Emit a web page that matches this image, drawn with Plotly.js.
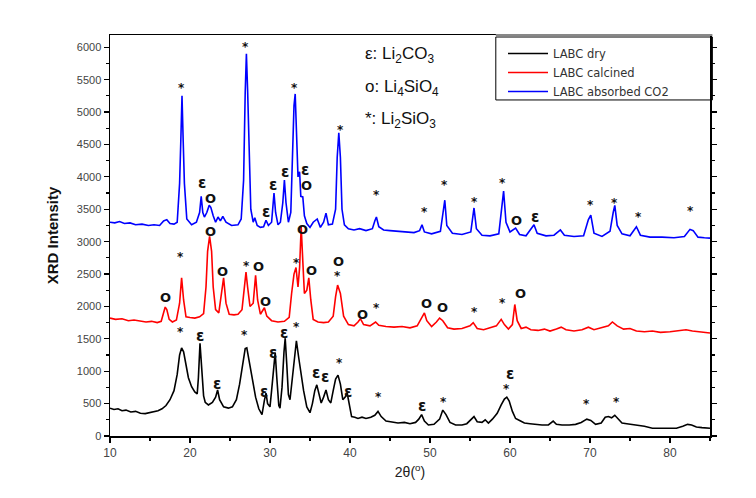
<!DOCTYPE html>
<html>
<head>
<meta charset="utf-8">
<script src="https://cdn.plot.ly/plotly-3.0.1.min.js"></script>
<style>html,body{margin:0;padding:0;background:#fff;}#chart{width:756px;height:498px;}</style>
</head>
<body>
<div id="chart"></div>
<script>
// ---- Data ----
const seriesNames = ["LABC dry", "LABC calcined", "LABC absorbed CO2"];

const blueX = [10.0,10.6,11.2,11.8,12.5,13.2,14.0,14.8,15.5,16.2,16.7,17.1,17.5,18.0,18.4,18.7,18.85,19.0,19.15,19.3,19.6,20.2,20.8,21.2,21.4,21.6,21.8,22.1,22.4,22.6,22.9,23.2,23.5,23.8,24.1,24.5,25.2,26.0,26.4,26.7,26.9,27.05,27.2,27.4,27.6,27.9,28.1,28.4,28.8,29.2,29.5,29.8,30.2,30.5,30.7,31.0,31.3,31.6,31.8,32.0,32.3,32.6,32.8,33.0,33.15,33.35,33.5,33.7,33.85,34.1,34.3,34.6,35.0,35.4,35.9,36.3,36.7,37.0,37.3,37.8,38.2,38.4,38.6,38.8,39.0,39.3,39.8,40.5,41.2,42.0,42.8,43.1,43.3,43.6,44.2,45.0,46.0,47.0,48.0,48.7,49.0,49.3,50.2,51.3,51.7,51.85,52.1,52.8,54.0,55.1,55.5,55.8,56.5,57.5,58.6,59.0,59.2,59.5,60.0,60.7,61.2,62.0,63.0,63.4,64.5,65.5,66.3,66.8,68.0,69.2,69.8,70.1,70.5,71.5,72.5,72.9,73.1,73.4,74.0,75.0,75.8,76.3,77.5,79.0,80.5,81.8,82.5,82.9,83.5,84.3,85.0];
const blueY = [3300,3290,3310,3280,3290,3260,3270,3250,3260,3250,3320,3340,3280,3270,3300,3900,4550,5250,4550,3900,3350,3260,3300,3450,3700,3450,3380,3450,3560,3530,3400,3300,3380,3320,3390,3300,3250,3260,3350,3950,5300,5900,5350,4200,3500,3300,3370,3250,3220,3230,3330,3250,3300,3750,3450,3260,3300,3600,3950,3600,3300,3450,4200,5100,5280,4700,4000,4080,3700,3690,3400,3280,3220,3300,3350,3220,3300,3440,3260,3270,3500,4300,4680,4300,3500,3260,3200,3180,3200,3170,3200,3320,3380,3230,3180,3170,3160,3150,3140,3170,3260,3150,3120,3160,3500,3640,3250,3130,3110,3150,3520,3200,3100,3090,3120,3580,3780,3300,3150,3210,3110,3090,3260,3130,3090,3100,3180,3100,3080,3090,3340,3410,3130,3080,3160,3450,3560,3250,3120,3090,3230,3100,3070,3070,3060,3080,3190,3170,3070,3060,3055];

const redX = [10.0,10.7,11.5,12.3,13.0,13.8,14.5,15.2,15.9,16.4,16.7,16.9,17.1,17.4,17.8,18.3,18.7,18.95,19.2,19.5,20.0,20.6,21.2,21.7,22.0,22.2,22.45,22.7,22.9,23.2,23.6,24.0,24.2,24.5,24.9,25.5,26.0,26.5,26.8,27.0,27.2,27.5,27.9,28.2,28.45,28.8,29.3,29.6,30.2,31.0,31.8,32.4,32.7,33.0,33.25,33.5,33.7,33.9,34.1,34.3,34.6,34.85,35.1,35.4,36.0,36.7,37.3,37.9,38.2,38.45,38.8,39.2,39.8,40.5,41.0,41.3,41.7,42.5,43.2,43.6,44.5,45.5,46.5,47.5,48.4,48.9,49.3,49.6,50.2,50.8,51.2,51.6,52.2,53.0,54.0,55.0,55.4,55.9,56.7,57.5,58.3,58.9,59.3,59.8,60.3,60.6,60.9,61.4,62.0,62.6,63.5,64.3,65.0,65.8,66.4,67.0,68.0,69.0,69.8,70.5,71.5,72.3,72.8,73.4,74.2,75.0,75.8,76.8,77.8,78.8,80.0,81.0,82.0,82.8,83.6,84.4,85.0];
const redY = [1820,1800,1810,1780,1790,1770,1760,1770,1750,1770,1900,1990,1950,1800,1760,1790,2050,2440,2100,1840,1830,1820,1840,1890,2300,2850,3080,2850,2300,1950,1900,2250,2440,2050,1880,1870,1880,1950,2300,2530,2300,2000,2050,2480,2100,1880,1980,1850,1780,1760,1770,1830,2200,2500,2600,2300,2600,3230,2700,2200,2250,2440,2100,1800,1760,1750,1760,1850,2150,2330,2200,1850,1720,1700,1760,1810,1720,1700,1760,1710,1690,1680,1690,1670,1700,1800,1900,1780,1690,1760,1820,1780,1670,1650,1660,1700,1750,1660,1640,1670,1700,1800,1720,1650,1720,2030,1780,1660,1680,1640,1630,1650,1620,1650,1680,1640,1620,1640,1680,1640,1670,1700,1760,1700,1650,1660,1620,1610,1620,1600,1610,1620,1640,1620,1610,1600,1590];

const blackX = [10.0,10.5,11.0,11.5,12.0,12.6,13.2,13.8,14.4,15.0,15.5,16.0,16.5,17.0,17.5,18.0,18.4,18.7,18.95,19.2,19.5,19.8,20.2,20.6,20.9,21.05,21.25,21.45,21.7,21.9,22.3,22.8,23.2,23.45,23.7,24.2,24.8,25.3,25.8,26.2,26.6,26.9,27.1,27.4,27.8,28.2,28.6,29.0,29.3,29.5,29.7,30.0,30.2,30.45,30.65,30.85,31.1,31.25,31.5,31.75,31.9,32.1,32.3,32.5,32.8,33.1,33.3,33.6,33.9,34.2,34.6,35.0,35.3,35.6,35.85,36.1,36.4,36.7,37.0,37.3,37.6,37.9,38.2,38.5,38.8,39.1,39.4,39.65,39.9,40.2,40.6,41.0,41.5,42.0,42.6,43.1,43.5,43.9,44.5,45.2,46.0,46.8,47.5,48.2,48.6,48.95,49.3,49.8,50.5,51.2,51.6,52.0,52.5,53.2,54.0,54.6,55.2,55.5,55.9,56.5,56.9,57.3,57.8,58.4,58.9,59.3,59.6,59.9,60.3,60.7,61.2,61.8,62.5,63.2,64.0,64.8,65.4,65.8,66.5,67.4,68.2,68.9,69.6,70.1,70.7,71.4,71.9,72.3,72.7,73.1,73.5,74.0,74.6,75.3,76.0,76.8,77.8,78.8,79.8,80.8,81.6,82.2,82.7,83.3,84.0,85.0];
const blackY = [430,410,420,390,400,370,380,350,345,360,380,390,420,470,560,700,950,1250,1360,1300,1100,900,760,680,650,900,1430,1000,620,520,480,520,600,710,560,450,430,450,560,800,1150,1350,1360,1150,850,600,420,330,550,660,500,450,700,1100,1290,900,470,430,750,1300,1510,1100,640,560,900,1300,1470,1200,920,700,450,360,500,700,790,680,510,600,710,560,510,700,880,940,800,560,600,660,500,300,290,270,290,270,290,320,380,300,230,220,200,210,190,210,260,330,230,170,180,260,400,330,210,170,170,190,260,300,220,210,250,200,260,350,480,570,600,540,380,270,240,200,190,180,170,170,230,180,170,170,180,210,260,240,180,200,290,300,280,320,270,200,190,180,170,150,120,120,130,120,150,180,170,140,130,120];

// Peak labels (phase markers)
const labelX = [18.9,26.9,33.0,38.75,21.5,22.5,29.5,30.4,31.9,34.4,34.6,43.25,49.25,51.75,55.5,59.1,60.75,63.1,70.0,73.0,76.0,82.6,
  16.9,18.75,22.5,24.1,27.0,28.5,29.4,33.25,34.1,35.2,38.5,38.4,41.5,43.25,49.5,51.5,55.5,59.0,61.25,
  18.75,21.25,23.4,26.75,29.25,30.4,31.7,33.3,35.75,36.9,38.7,39.7,43.5,49.0,51.7,60.0,59.5,69.6,73.25];
const labelY = [5370,6000,5370,4720,3900,3670,3460,3870,4080,4100,3860,3720,3460,3870,3615,3900,3330,3385,3565,3600,3385,3470,
  2145,2760,3150,2535,2630,2610,2070,2670,3180,2550,2700,2470,1870,1970,2050,1990,1920,2050,2200,
  1605,1545,800,1560,685,1285,1590,1685,965,915,1130,685,595,463,530,960,720,495,530];
const labelText = ["*","*","*","*","ε","O","ε","ε","ε","ε","O","*","*","*","*","*","O","ε","*","*","*","*",
  "O","*","O","O","*","O","O","*","O","O","O","*","O","*","O","O","*","*","O",
  "*","ε","ε","*","ε","ε","ε","*","ε","ε","*","ε","*","ε","*","ε","*","*","*"];

const keyLines = ["ε: Li<sub>2</sub>CO<sub>3</sub>", "o: Li<sub>4</sub>SiO<sub>4</sub>", "*: Li<sub>2</sub>SiO<sub>3</sub>"];
const yTickVals = [0,500,1000,1500,2000,2500,3000,3500,4000,4500,5000,5500,6000];
const xTickVals = [10,20,30,40,50,60,70,80];

// ---- Build chart ----
const traces = [
  {x: blackX, y: blackY, name: seriesNames[0], type: "scatter", mode: "lines", line: {color: "#000000", width: 1.6}},
  {x: redX, y: redY, name: seriesNames[1], type: "scatter", mode: "lines", line: {color: "#ff0000", width: 1.6}},
  {x: blueX, y: blueY, name: seriesNames[2], type: "scatter", mode: "lines", line: {color: "#0000ff", width: 1.6}}
];

const annotations = labelText.map((t, i) => {
  const size = t === "*" ? 12 : (t === "ε" ? 15 : 13);
  return {
    x: labelX[i], y: labelY[i], xref: "x", yref: "y", text: t, showarrow: false,
    font: {family: "DejaVu Sans", size: size, color: "#111", weight: "bold"},
    xanchor: "center", yanchor: "middle"
  };
});

const keyY = [0.950, 0.868, 0.788];
keyLines.forEach((t, i) => {
  annotations.push({
    x: 0.421, y: keyY[i], xref: "paper", yref: "paper", text: t, showarrow: false,
    xanchor: "left", yanchor: "middle",
    font: {family: "Liberation Sans, Arial", size: 17, color: "#111"}
  });
});

const layout = {
  width: 756, height: 498,
  margin: {l: 110, r: 46, t: 35, b: 62, pad: 0},
  paper_bgcolor: "#ffffff", plot_bgcolor: "#ffffff",
  showlegend: true,
  legend: {
    x: 0.655, y: 0.99, xanchor: "left", yanchor: "top",
    bgcolor: "rgba(0,0,0,0)", borderwidth: 0,
    font: {family: "DejaVu Sans", size: 11.5, color: "#333"},
    tracegroupgap: 0, itemwidth: 40
  },
  xaxis: {
    range: [10, 85], tickvals: xTickVals, ticks: "outside", ticklen: 5, tickwidth: 1.2,
    tickcolor: "#000", showline: true, linecolor: "#000", linewidth: 1.5, mirror: true,
    showgrid: false, zeroline: false,
    tickfont: {family: "Liberation Sans, Arial", size: 12, color: "#444"},
    minor: {dtick: 5, ticks: "outside", ticklen: 3, tickcolor: "#000", showgrid: false},
    title: {text: "2θ(<sup>o</sup>)", standoff: 8, font: {family: "Liberation Sans, Arial", size: 14, color: "#222"}}
  },
  yaxis: {
    range: [0, 6190], tickvals: yTickVals, ticks: "outside", ticklen: 5, tickwidth: 1.2,
    tickcolor: "#000", showline: true, linecolor: "#000", linewidth: 1.5, mirror: "ticks",
    showgrid: false, zeroline: false,
    tickfont: {family: "Liberation Sans, Arial", size: 11, color: "#444"},
    minor: {dtick: 250, ticks: "outside", ticklen: 3, tickcolor: "#000", showgrid: false},
    title: {text: "<b>XRD Intensity</b>", standoff: 14, font: {family: "Liberation Sans, Arial", size: 15, color: "#111"}}
  },
  shapes: [
    {type: "rect", xref: "paper", yref: "paper", x0: 0.643, x1: 1.004, y0: 0.838, y1: 0.995,
     line: {color: "#000", width: 1}, fillcolor: "rgba(0,0,0,0)"},
    {type: "line", xref: "paper", yref: "paper", x0: 0.643, x1: 1.004, y0: 1.0, y1: 1.0,
     line: {color: "#888", width: 2}}
  ],
  annotations: annotations
};

Plotly.newPlot("chart", traces, layout, {displayModeBar: false, staticPlot: true});
</script>
</body>
</html>
